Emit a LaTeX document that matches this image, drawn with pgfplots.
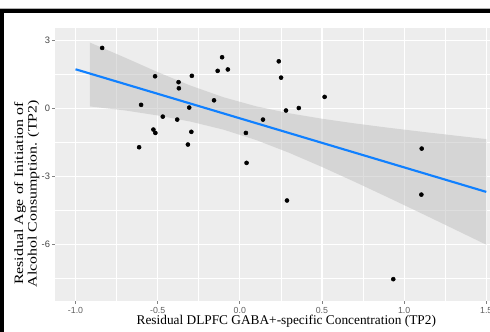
\documentclass[border=0pt]{standalone}
\usepackage{fontspec}
\setmainfont{Liberation Serif}
\newfontfamily\tickfont{Liberation Sans}
\usepackage{graphicx}
\usepackage{pgfplots}
\usepackage{pgfplotstable}
\pgfplotsset{compat=1.18}
\definecolor{panel}{RGB}{237,237,237}
\definecolor{bandgray}{RGB}{190,190,190}
\definecolor{fitblue}{RGB}{16,128,255}
\definecolor{ticktext}{RGB}{95,95,95}
\definecolor{yticktext}{RGB}{70,70,70}
\definecolor{tickmark}{RGB}{130,130,130}

\pgfplotstableread{
x y
-0.838 2.66
-0.601 0.15
-0.516 1.41
-0.469 -0.37
-0.526 -0.94
-0.514 -1.09
-0.613 -1.72
-0.373 1.15
-0.371 0.88
-0.381 -0.50
-0.308 0.03
-0.292 1.43
-0.295 -1.04
-0.316 -1.60
-0.157 0.35
-0.108 2.25
-0.135 1.65
-0.073 1.71
0.037 -1.09
0.041 -2.41
0.237 2.07
0.251 1.35
0.281 -0.10
0.359 0.01
0.516 0.50
0.141 -0.50
1.107 -1.78
0.287 -4.07
1.105 -3.81
0.934 -7.54
}\pointdata

\pgfplotstableread{
x y
-0.913 2.90
-0.7 2.237
-0.5 1.594
-0.3 0.999
-0.1 0.487
0.1 0.084
0.3 -0.221
0.5 -0.463
0.7 -0.669
0.9 -0.856
1.1 -1.030
1.3 -1.197
1.5 -1.36
1.5 -6.02
1.3 -5.317
1.1 -4.618
0.9 -3.928
0.7 -3.249
0.5 -2.589
0.3 -1.965
0.1 -1.404
-0.1 -0.943
-0.3 -0.589
-0.5 -0.318
-0.7 -0.095
-0.913 0.08
}\banddata

\begin{document}
\begin{tikzpicture}
\begin{axis}[
  at={(41.25pt,-21pt)}, anchor=north west,
  scale only axis, width=338.85pt, height=204.7pt,
  xmin=-1.125, xmax=1.625, ymin=-8.5, ymax=3.54,
  axis background/.style={fill=panel},
  axis line style={draw=none},
  xtick={-1,-0.5,0,0.5,1,1.5}, xticklabels={{-1.0},{-0.5},{0.0},{0.5},{1.0},{1.5}},
  ytick={-6,-3,0,3}, yticklabels={{-6},{-3},{0},{3}},
  minor xtick={-0.75,-0.25,0.25,0.75,1.25},
  minor ytick={-7.5,-4.5,-1.5,1.5},
  grid=both,
  major grid style={white, line width=0.8pt},
  minor grid style={white, line width=0.4pt},
  tick align=outside, major tick length=2.25pt, minor tick length=0pt,
  tick style={tickmark, line width=0.5pt},
  xtick pos=bottom, ytick pos=left,
  ticklabel style={font=\tickfont\fontsize{6.6}{7}\selectfont, text=ticktext},
  xticklabel style={yshift=1pt},
  yticklabel style={text=yticktext, font=\tickfont\fontsize{7}{8}\selectfont, inner xsep=1.3pt},
  xlabel={Residual DLPFC GABA+-specific Concentration (TP2)},
  xlabel style={at={(axis description cs:0.512,-0.085)}, anchor=base, font=\fontsize{10}{10}\selectfont},
  ylabel={\scalebox{1.24}[1]{Residual Age of Initiation of}\\\scalebox{1.24}[1]{Alcohol Consumption. (TP2)}},
  ylabel style={at={(axis description cs:-0.0625,0.393)}, anchor=center, align=center, font=\fontsize{9.6}{10.1}\selectfont},
]
\addplot[only marks, mark=*, mark size=1.5pt, black] table {\pointdata};
\addplot[fill=bandgray, fill opacity=0.5, draw=none] table {\banddata} -- cycle;
\addplot[fitblue, line width=1.6pt] coordinates {(-1.0,1.72) (1.5,-3.69)};
\end{axis}
\fill[gray!60] (0pt,-5.9pt) rectangle (367.5pt,-6.75pt);
\fill[black] (0pt,-6.75pt) rectangle (367.5pt,-9.5pt);
\fill[black] (0.2pt,-6.75pt) rectangle (3pt,-249pt);
\pgfresetboundingbox
\path (0pt,0pt) rectangle (367.5pt,-249pt);
\end{tikzpicture}
\end{document}
